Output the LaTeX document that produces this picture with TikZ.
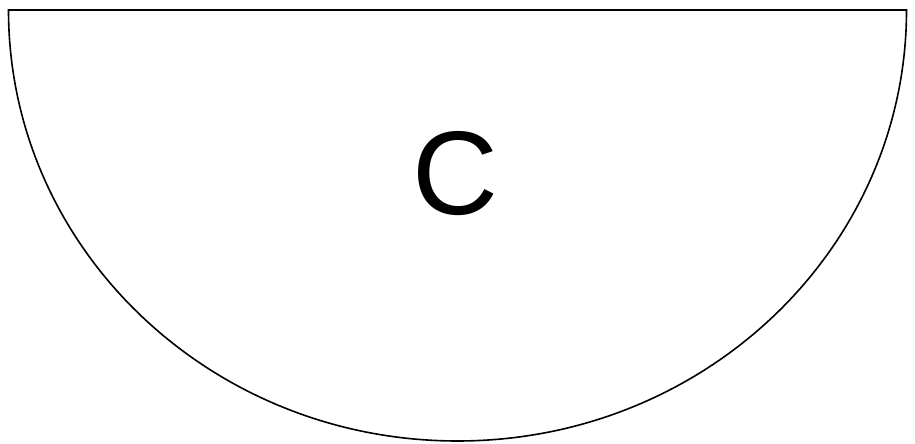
\documentclass[tikz,border=0pt]{standalone}
\usepackage{fontspec}
\setmainfont{Liberation Sans}
\usetikzlibrary{positioning}
\tikzset{half/.style={draw, line width=1.6pt, fill=white},
label_t/.style={font=\fontsize{119}{119}\selectfont, inner sep=0pt, anchor=base}}

\begin{document}
\begin{tikzpicture}[x=1pt, y=1pt]
  \useasboundingbox (0,0) rectangle (915,444);
  % half disk, flat side on top
  \draw[half] (8.5,434) -- (906.5,434) arc[start angle=0, end angle=-180, x radius=449, y radius=431] -- cycle;
  \node[label_t] (c) at (455,229) {C};
\end{tikzpicture}
\end{document}
